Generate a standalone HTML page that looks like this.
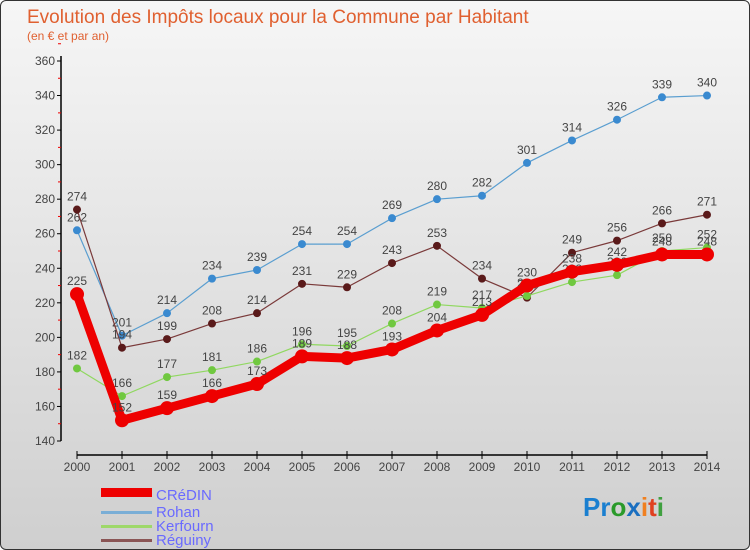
<!DOCTYPE html>
<html><head><meta charset="utf-8"><style>
body{margin:0;width:750px;height:550px;overflow:hidden;font-family:"Liberation Sans",sans-serif}
#frame{position:absolute;left:0;top:0;width:748px;height:548px;border:1px solid #333;border-radius:6px;background:linear-gradient(#f6f6f6,#cfcfcf);overflow:hidden}
</style></head><body>
<div id="frame">
<svg id="c" width="750" height="550" style="position:absolute;left:0;top:0">
<text x="26" y="22" font-size="19" fill="#e06030">Evolution des Impôts locaux pour la Commune par Habitant</text>
<text x="26" y="39" font-size="12" fill="#e06030">(en € et par an)</text>
<g id="axes"></g><g id="series"></g>
<g font-size="15" fill="#6a6aff">
<rect x="100" y="487" width="51" height="9" fill="#e00"/>
<text x="155" y="499">CRéDIN</text>
<rect x="100" y="510" width="51" height="3" fill="#7aaed6"/>
<text x="155" y="516">Rohan</text>
<rect x="100" y="524" width="51" height="3" fill="#9ed86a"/>
<text x="155" y="530">Kerfourn</text>
<rect x="100" y="538" width="51" height="3" fill="#8a5555"/>
<text x="155" y="544">Réguiny</text>
</g>
<text x="582" y="515" font-size="26" font-weight="bold"><tspan fill="#1a7fd0">Pr</tspan><tspan fill="#2a9a2a">o</tspan><tspan fill="#1a6fc0">x</tspan><tspan fill="#f08020">i</tspan><tspan fill="#e04020">t</tspan><tspan fill="#40a040">i</tspan></text>
</svg></div>
<script>
const years=[2000,2001,2002,2003,2004,2005,2006,2007,2008,2009,2010,2011,2012,2013,2014];
const yTicks=[140,160,180,200,220,240,260,280,300,320,340,360];
const credin=[225,152,159,166,173,189,188,193,204,213,230,238,242,248,248];
const rohan=[262,201,214,234,239,254,254,269,280,282,301,314,326,339,340];
const kerfourn=[182,166,177,181,186,196,195,208,219,217,224,232,236,250,252];
const reguiny=[274,194,199,208,214,231,229,243,253,234,223,249,256,266,271];
const NS='http://www.w3.org/2000/svg';
const X=i=>76+i*45;
const Y=v=>440-(v-140)*380/220;
function mk(t,a,p){const e=document.createElementNS(NS,t);for(const k in a)e.setAttribute(k,a[k]);p.appendChild(e);return e;}
const ax=document.getElementById('axes');
const yl=mk('line',{x1:60,y1:55,x2:60,y2:440,stroke:'#000','stroke-width':1.5},ax);


yTicks.forEach(v=>{
  mk('line',{x1:56,x2:60,y1:Y(v),y2:Y(v),stroke:'#000'},ax);
  mk('line',{x1:57,x2:60,y1:Y(v+10),y2:Y(v+10),stroke:'#e00'},ax);
  const t=mk('text',{x:54,y:Y(v)+4,'text-anchor':'end','font-size':12,fill:'#444'},ax);
  t.textContent=v;
  
  
});
const xl=mk('line',{x1:76,y1:454,x2:706,y2:454,stroke:'#000','stroke-width':1.5},ax);


years.forEach((y,i)=>{
  mk('line',{x1:X(i),x2:X(i),y1:450,y2:458,stroke:'#000'},ax);
  const t=mk('text',{x:X(i),y:470,'text-anchor':'middle','font-size':12,fill:'#444'},ax);
  t.textContent=y;
  
  
});
const sg=document.getElementById('series');
function draw(name,data,color,w,r,dot){
  const g=mk('g',{},sg);
  
  
  const pl=mk('polyline',{points:data.map((v,i)=>X(i)+','+Y(v)).join(' '),fill:'none',stroke:color,'stroke-width':w,'stroke-linejoin':'round'},g);
  
  
  data.forEach((v,i)=>{
    const c=mk('circle',{cx:X(i),cy:Y(v),r:r,fill:dot},g);
    
    
    const t=mk('text',{x:X(i),y:Y(v)-9,'text-anchor':'middle','font-size':12,fill:'#444'},g);
    t.textContent=v;
    
    
  });
}
draw('rohan',rohan,'#5a9ed0',1.2,4,'#3a8ad0');
draw('reguiny',reguiny,'#7a3a3a',1.2,4,'#5a1a1a');
draw('kerfourn',kerfourn,'#90d860',1.2,4,'#70c840');
draw('credin',credin,'#ee0000',9,7,'#ee0000');
</script>
</body></html>
